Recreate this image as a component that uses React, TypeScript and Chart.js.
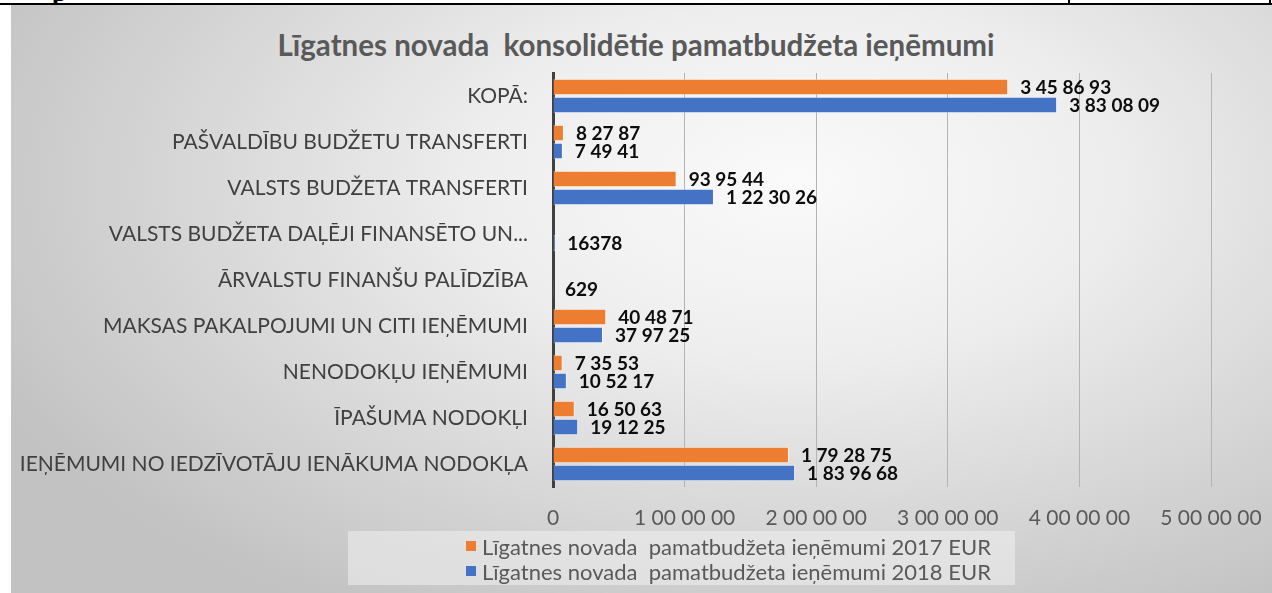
import React, { useEffect, useRef } from "react";
import { Chart, registerables } from "chart.js";

Chart.register(...registerables);

const chartTitle = "Līgatnes novada  konsolidētie pamatbudžeta ieņēmumi";

const categories = [
  "KOPĀ:",
  "PAŠVALDĪBU BUDŽETU TRANSFERTI",
  "VALSTS BUDŽETA TRANSFERTI",
  "VALSTS BUDŽETA DAĻĒJI FINANSĒTO UN...",
  "ĀRVALSTU FINANŠU PALĪDZĪBA",
  "MAKSAS PAKALPOJUMI UN CITI IEŅĒMUMI",
  "NENODOKĻU IEŅĒMUMI",
  "ĪPAŠUMA NODOKĻI",
  "IEŅĒMUMI NO IEDZĪVOTĀJU IENĀKUMA NODOKĻA",
];

const seriesNames = [
  "Līgatnes novada  pamatbudžeta ieņēmumi 2017 EUR",
  "Līgatnes novada  pamatbudžeta ieņēmumi 2018 EUR",
];

const values2017 = [3458693, 82787, 939544, null, null, 404871, 73553, 165063, 1792875];
const values2018 = [3830809, 74941, 1223026, 16378, 629, 379725, 105217, 191225, 1839668];

const labels2017 = ["3 45 86 93", "8 27 87", "93 95 44", "", "", "40 48 71", "7 35 53", "16 50 63", "1 79 28 75"];
const labels2018 = ["3 83 08 09", "7 49 41", "1 22 30 26", "16378", "629", "37 97 25", "10 52 17", "19 12 25", "1 83 96 68"];

const xTickLabels = ["0", "1 00 00 00", "2 00 00 00", "3 00 00 00", "4 00 00 00", "5 00 00 00"];

const seriesColors = ["#ED7D31", "#4472C4"];

const FONT = "Lato, 'Open Sans', sans-serif";

const valueLabelPlugin = {
  id: "valueLabels",
  afterDatasetsDraw(chart: any) {
    const ctx = chart.ctx;
    const allLabels = [labels2017, labels2018];
    ctx.save();
    ctx.font = `bold 19px ${FONT}`;
    ctx.fillStyle = "#0d0d0d";
    ctx.textBaseline = "middle";
    ctx.textAlign = "left";
    chart.data.datasets.forEach((ds: any, di: number) => {
      const meta = chart.getDatasetMeta(di);
      meta.data.forEach((el: any, i: number) => {
        const txt = allLabels[di][i];
        if (!txt) return;
        const x = isNaN(el.x) ? chart.scales.x.getPixelForValue(0) : el.x;
        ctx.fillText(txt, x + 12, el.y + 1);
      });
    });
    ctx.restore();
  },
};

export default function App() {
  const canvasRef = useRef<HTMLCanvasElement | null>(null);

  useEffect(() => {
    document.body.style.margin = "0";
    const canvas = canvasRef.current;
    if (!canvas) return;
    const chart = new Chart(canvas, {
      type: "bar",
      data: {
        labels: categories,
        datasets: [
          {
            label: seriesNames[0],
            data: values2017 as any,
            backgroundColor: seriesColors[0],
            borderColor: "rgba(255,255,255,0.5)",
            borderWidth: 1,
            categoryPercentage: 0.78,
            barPercentage: 0.92,
          },
          {
            label: seriesNames[1],
            data: values2018 as any,
            backgroundColor: seriesColors[1],
            borderColor: "rgba(255,255,255,0.5)",
            borderWidth: 1,
            categoryPercentage: 0.78,
            barPercentage: 0.92,
          },
        ],
      },
      options: {
        indexAxis: "y",
        responsive: false,
        animation: false,
        devicePixelRatio: 1,
        layout: { padding: { left: 0, right: 61, top: 68, bottom: 0 } },
        plugins: {
          legend: { display: false },
          tooltip: { enabled: false },
          title: { display: false },
        },
        scales: {
          x: {
            type: "linear",
            min: 0,
            max: 5000000,
            grid: { color: "#b3b3b3", lineWidth: 1, drawTicks: false },
            border: { display: false },
            ticks: {
              stepSize: 1000000,
              color: "#595959",
              font: { family: FONT, size: 21 },
              padding: 19,
              callback: (v: any) => xTickLabels[Math.round(Number(v) / 1000000)],
            },
            afterFit: (scale: any) => {
              scale.height = 106;
              scale.paddingLeft = 0;
              scale.paddingRight = 0;
            },
          },
          y: {
            grid: { display: false },
            border: { display: true, color: "#404040", width: 3 },
            ticks: {
              autoSkip: false,
              color: "#404040",
              font: { family: FONT, size: 21 },
              padding: 17,
            },
            afterFit: (scale: any) => {
              scale.width = 542;
              scale.paddingTop = 0;
              scale.paddingBottom = 0;
            },
          },
        },
      },
      plugins: [valueLabelPlugin],
    });
    return () => chart.destroy();
  }, []);

  return (
    <div style={{ position: "relative", width: 1272, height: 593, background: "#ffffff", overflow: "hidden" }}>
      <span
        style={{
          position: "absolute",
          left: 52,
          top: -22,
          fontFamily: "'Liberation Serif', serif",
          fontWeight: "bold",
          fontSize: 26,
          color: "#000",
          lineHeight: "30px",
        }}
      >
        p
      </span>
      <div
        style={{
          position: "absolute",
          left: 11,
          top: 5,
          width: 1261,
          height: 588,
          background:
            "radial-gradient(ellipse 70% 85% at 62% 30%, #fafafa 0%, #eeeeee 35%, #d6d6d6 70%, #c2c2c2 100%)",
        }}
      />
      <div style={{ position: "absolute", left: 0, top: 3, width: 1272, height: 2, background: "#000" }} />
      <div style={{ position: "absolute", left: 1068, top: 0, width: 2, height: 5, background: "#000" }} />
      <div style={{ position: "absolute", left: 1269, top: 0, width: 2, height: 5, background: "#000" }} />
      <div
        style={{
          position: "absolute",
          left: 236,
          width: 800,
          top: 27,
          lineHeight: "36px",
          textAlign: "center",
          whiteSpace: "pre",
          fontFamily: FONT,
          fontWeight: "bold",
          fontSize: 29.5,
          color: "#595959",
        }}
      >
        {chartTitle}
      </div>
      <canvas
        ref={canvasRef}
        width={1261}
        height={588}
        style={{ position: "absolute", left: 11, top: 5, width: 1261, height: 588 }}
      />
      <div
        style={{
          position: "absolute",
          left: 348,
          top: 531,
          width: 667,
          height: 54,
          background: "rgba(240,240,240,0.55)",
        }}
      >
        {seriesNames.map((name, i) => (
          <div
            key={name}
            style={{
              position: "absolute",
              left: 118,
              top: 3 + i * 25,
              height: 24,
              display: "flex",
              alignItems: "center",
              whiteSpace: "pre",
              fontFamily: FONT,
              fontSize: 22,
              color: "#595959",
            }}
          >
            <span style={{ display: "inline-block", width: 10, height: 10, background: seriesColors[i], marginRight: 6 }} />
            {name}
          </div>
        ))}
      </div>
    </div>
  );
}
